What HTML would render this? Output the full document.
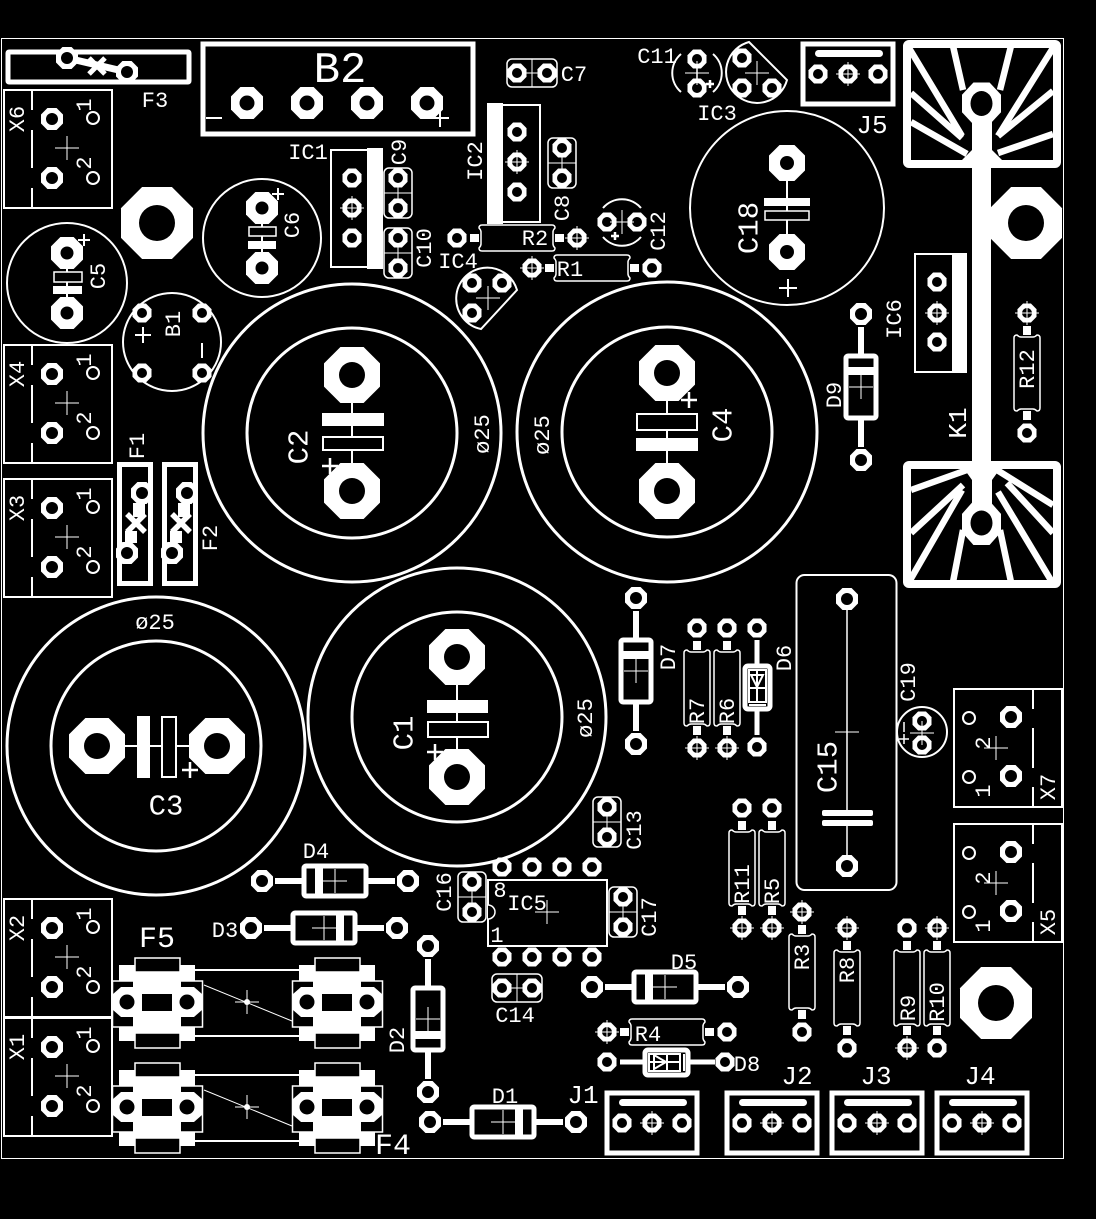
<!DOCTYPE html>
<html><head><meta charset="utf-8"><style>
html,body{margin:0;padding:0;background:#000}
svg{display:block}
text{font-family:"Liberation Mono",monospace;fill:#fff;stroke:none;text-anchor:middle;dominant-baseline:central;font-size:22px}
.l{fill:none;stroke:#fff;stroke-width:1.5}
.m{fill:none;stroke:#fff;stroke-width:2}
.h{fill:none;stroke:#fff;stroke-width:3}
.f{fill:none;stroke:#fff;stroke-width:5}
.w{stroke:#fff;stroke-width:6.5;fill:none}
.k{fill:#000}
.b{fill:#000;stroke:#fff;stroke-width:5}
</style></head><body>
<svg xmlns="http://www.w3.org/2000/svg" width="1096" height="1219" viewBox="0 0 1096 1219" fill="#fff">
<defs>
<path id="o" d="M-1,-.414 L-.414,-1 L.414,-1 L1,-.414 L1,.414 L.414,1 L-.414,1 L-1,.414Z"/>
<g id="a"><use href="#o" transform="scale(9.5)"/><circle r="5" fill="#000"/></g>
<g id="b"><use href="#o" transform="scale(11)"/><circle r="6" fill="#000"/></g>
<g id="p15"><use href="#o" transform="scale(16)"/><circle r="6.500" fill="#000"/></g>
<g id="p16"><use href="#o" transform="scale(16)"/><circle r="7.500" fill="#000"/></g>
<g id="p18"><use href="#o" transform="scale(18)"/><circle r="7" fill="#000"/></g>
<g id="p28"><use href="#o" transform="scale(28)"/><circle r="13" fill="#000"/></g>
<g id="p36"><use href="#o" transform="scale(36)"/><circle r="18" fill="#000"/></g>
<path id="c" d="M-12,0H12M0,-12V12" stroke="#fff" stroke-width="1" fill="none"/>
<g id="R">
<path class="l" d="M-35,-13H35Q38,-13 38,-10Q36,-8 36,-6V6Q36,8 38,10Q38,13 35,13H-35Q-38,13 -38,10Q-36,8 -36,6V-6Q-36,-8 -38,-10Q-38,-13 -35,-13Z"/>
<rect x="-47" y="-4" width="9" height="8"/><rect x="38" y="-4" width="9" height="8"/>
<use href="#a" x="-60"/><use href="#a" x="60"/><use href="#c" x="-60"/>
</g>
<g id="D">
<path d="M-60,0H-33M33,0H60" stroke="#fff" stroke-width="6"/>
<rect class="b" x="-31" y="-15" width="62" height="30" rx="2"/>
<rect x="-20" y="-15" width="8" height="30"/>
<use href="#c"/>
<use href="#b" x="-73"/><use href="#b" x="73"/>
</g>
<g id="Cv">
<rect class="l" x="-14" y="-25" width="28" height="50" rx="5"/>
<path d="M0,-15V15M-14,0H14" stroke="#fff" stroke-width="1" fill="none"/>
<use href="#a" y="-15"/><use href="#a" y="15"/>
</g>
<g id="TL">
<rect class="m" x="0" y="0" width="108" height="118"/>
<path class="m" d="M28,0V20M28,40V78M28,98V118"/>
<use href="#b" x="48" y="29"/><use href="#b" x="48" y="88"/>
<circle class="m" cx="89" cy="28" r="6"/><circle class="m" cx="89" cy="88" r="6"/>
<use href="#c" x="63" y="58"/>
<text dy=".07em" x="80" y="15" transform="rotate(-90 80 15)">1</text>
<text dy=".07em" x="80" y="73" transform="rotate(-90 80 73)">2</text>
</g>
<g id="TR">
<rect class="m" x="0" y="0" width="108" height="118"/>
<path class="m" d="M79,0V20M79,39V79M79,98V118"/>
<use href="#b" x="57" y="28"/><use href="#b" x="57" y="87"/>
<circle class="m" cx="15" cy="29" r="6"/><circle class="m" cx="15" cy="88" r="6"/>
<use href="#c" x="42" y="59"/>
<text dy=".07em" x="29" y="54" transform="rotate(-90 29 54)">2</text>
<text dy=".07em" x="29" y="102" transform="rotate(-90 29 102)">1</text>
</g>
<g id="J">
<rect class="f" x="0" y="0" width="90" height="60"/>
<rect x="12" y="6" width="68" height="7" rx="3.5"/>
<use href="#a" x="15" y="30"/><use href="#a" x="45" y="30"/><use href="#a" x="75" y="30"/>
<use href="#c" x="45" y="30"/>
</g>
<g id="H">
<rect x="-38" y="-37" width="76" height="76"/>
<rect x="-44.500" y="-21" width="20.500" height="46" class="k"/>
<rect x="24" y="-21" width="21.500" height="46" class="k"/>
<rect x="-44.500" y="-21" width="90" height="46" class="l"/>
<path d="M-44,-8L-36,-15H-16V15H-36L-44,8Z"/>
<path d="M45,-8L37,-15H16V15H37L45,8Z"/>
<circle cx="-30" r="7.500" class="k"/><circle cx="30" r="7.500" class="k"/>
<rect x="-15" y="-8" width="30" height="17" class="k"/>
<rect class="k" x="-22" y="-44" width="45" height="14"/><rect class="l" x="-22" y="-44" width="45" height="14"/>
<rect class="k" x="-22" y="31" width="45" height="15"/><rect class="l" x="-22" y="31" width="45" height="15"/>
</g>
</defs>
<rect width="1096" height="1219" fill="#000"/>
<rect x="1.500" y="38.500" width="1062" height="1120" fill="none" stroke="#fff" stroke-width="1"/>

<!-- F3 -->
<rect class="f" x="8" y="52" width="181" height="30" rx="1"/>
<path d="M67,58L127,72" stroke="#fff" stroke-width="7"/>
<path d="M89,58L105,74M105,58L89,74" stroke="#fff" stroke-width="5"/>
<use href="#b" x="67" y="58"/><use href="#b" x="127" y="72"/>
<text dy=".07em" x="155" y="100">F3</text>

<!-- B2 -->
<rect class="f" x="203" y="44" width="270" height="90"/>
<text dy=".07em" x="340" y="68" style="font-size:44px">B2</text>
<use href="#p16" x="247" y="103"/><use href="#p16" x="307" y="103"/><use href="#p16" x="367" y="103"/><use href="#p16" x="427" y="103"/>
<path d="M206,118H222M431,118H449M440,109V127" stroke="#fff" stroke-width="2" fill="none"/>

<!-- terminals -->
<use href="#TL" x="4" y="90"/><text dy=".07em" x="17" y="119" transform="rotate(-90 17 119)">X6</text>
<use href="#TL" x="4" y="345"/><text dy=".07em" x="17" y="374" transform="rotate(-90 17 374)">X4</text>
<use href="#TL" x="4" y="479"/><text dy=".07em" x="17" y="508" transform="rotate(-90 17 508)">X3</text>
<use href="#TL" x="4" y="899"/><text dy=".07em" x="17" y="928" transform="rotate(-90 17 928)">X2</text>
<use href="#TL" x="4" y="1018"/><text dy=".07em" x="17" y="1047" transform="rotate(-90 17 1047)">X1</text>
<use href="#TR" x="954" y="689"/><text dy=".07em" x="1048" y="787" transform="rotate(-90 1048 787)">X7</text>
<use href="#TR" x="954" y="824"/><text dy=".07em" x="1048" y="922" transform="rotate(-90 1048 922)">X5</text>

<!-- mounting holes -->
<use href="#p36" x="157" y="223"/><use href="#p36" x="996" y="1003"/>

<!-- C5 C6 -->
<circle class="m" cx="67" cy="283" r="60"/>
<path d="M67,253V313" stroke="#fff" stroke-width="2"/>
<rect class="k" x="54" y="272" width="28" height="10"/><rect class="l" x="54" y="272" width="28" height="10" stroke-width="2"/>
<rect x="53" y="286" width="29" height="8"/>
<use href="#p15" x="67" y="253"/><use href="#p15" x="67" y="313"/>
<text dy=".07em" x="98" y="276" transform="rotate(-90 98 276)">C5</text>
<path d="M78,240H90M84,234V246" stroke="#fff" stroke-width="2"/>
<circle class="m" cx="262" cy="238" r="59"/>
<path d="M262,208V268" stroke="#fff" stroke-width="2"/>
<rect class="k" x="249" y="227" width="27" height="9"/><rect class="l" x="249" y="227" width="27" height="9"/>
<rect x="248" y="241" width="28" height="8"/>
<use href="#p15" x="262" y="208"/><use href="#p15" x="262" y="268"/>
<text dy=".07em" x="292" y="225" transform="rotate(-90 292 225)">C6</text>
<path d="M272,194H284M278,188V200" stroke="#fff" stroke-width="2"/>

<!-- B1 -->
<circle class="m" cx="172" cy="342" r="49"/>
<use href="#a" x="142" y="313"/><use href="#a" x="202" y="313"/><use href="#a" x="142" y="373"/><use href="#a" x="202" y="373"/>
<text dy=".07em" x="173" y="324" transform="rotate(-90 173 324)">B1</text>
<path d="M143,327V343M135,335H151M202,343V358" stroke="#fff" stroke-width="2"/>

<!-- C2 -->
<circle class="h" cx="352" cy="433" r="149"/><circle class="h" cx="352" cy="433" r="105"/>
<path d="M352,375V491" stroke="#fff" stroke-width="2"/>
<rect x="322" y="413" width="62" height="13"/>
<rect class="k" x="323" y="437" width="60" height="13"/><rect class="m" x="323" y="437" width="60" height="13"/>
<use href="#p28" x="352" y="375"/><use href="#p28" x="352" y="491"/>
<path d="M322,466H338M330,458V474" stroke="#fff" stroke-width="2.500"/>
<text dy=".07em" x="298" y="447" transform="rotate(-90 298 447)" style="font-size:29px">C2</text>
<text dy=".07em" x="482" y="434" transform="rotate(-90 482 434)">ø25</text>

<!-- C4 -->
<circle class="h" cx="667" cy="432" r="150"/><circle class="h" cx="667" cy="432" r="105"/>
<path d="M667,373V491" stroke="#fff" stroke-width="2"/>
<rect class="k" x="637" y="414" width="60" height="16"/><rect class="m" x="637" y="414" width="60" height="16"/>
<rect x="636" y="438" width="62" height="13"/>
<use href="#p28" x="667" y="373"/><use href="#p28" x="667" y="491"/>
<path d="M681,400H697M689,392V408" stroke="#fff" stroke-width="2.500"/>
<text dy=".07em" x="722" y="425" transform="rotate(-90 722 425)" style="font-size:29px">C4</text>
<text dy=".07em" x="542" y="435" transform="rotate(-90 542 435)">ø25</text>

<!-- C3 -->
<circle class="h" cx="156" cy="746" r="149"/><circle class="h" cx="156" cy="746" r="105"/>
<path d="M97,746H217" stroke="#fff" stroke-width="2"/>
<rect x="137" y="716" width="13" height="62"/>
<rect class="k" x="162" y="717" width="14" height="60"/><rect class="m" x="162" y="717" width="14" height="60"/>
<use href="#p28" x="97" y="746"/><use href="#p28" x="217" y="746"/>
<path d="M182,770H198M190,762V778" stroke="#fff" stroke-width="2.500"/>
<text dy=".07em" x="166" y="805" style="font-size:29px">C3</text>
<text dy=".07em" x="155" y="622">ø25</text>

<!-- C1 -->
<circle class="h" cx="457" cy="717" r="149"/><circle class="h" cx="457" cy="717" r="105"/>
<path d="M457,657V777" stroke="#fff" stroke-width="2"/>
<rect x="427" y="700" width="61" height="13"/>
<rect class="k" x="428" y="722" width="60" height="15"/><rect class="m" x="428" y="722" width="60" height="15"/>
<use href="#p28" x="457" y="657"/><use href="#p28" x="457" y="777"/>
<path d="M427,752H443M435,744V760" stroke="#fff" stroke-width="2.500"/>
<text dy=".07em" x="403" y="733" transform="rotate(-90 403 733)" style="font-size:29px">C1</text>
<text dy=".07em" x="585" y="718" transform="rotate(-90 585 718)">ø25</text>

<!-- C18 -->
<circle class="m" cx="787" cy="208" r="97"/>
<path d="M787,163V252" stroke="#fff" stroke-width="2"/>
<rect x="764" y="198" width="46" height="8"/>
<rect class="k" x="765" y="211" width="44" height="9"/><rect class="l" x="765" y="211" width="44" height="9"/>
<use href="#p18" x="787" y="163"/><use href="#p18" x="787" y="252"/>
<text dy=".07em" x="748" y="228" transform="rotate(-90 748 228)" style="font-size:29px">C18</text>
<path d="M779,288H797M788,279V297" stroke="#fff" stroke-width="2"/>

<!-- IC1 -->
<rect class="m" x="331" y="150" width="38" height="117"/>
<rect x="367" y="148" width="16" height="121"/>
<use href="#a" x="352" y="178"/><use href="#a" x="352" y="208"/><use href="#a" x="352" y="238"/><use href="#c" x="352" y="208"/>
<text dy=".07em" x="308" y="152">IC1</text>
<!-- C9 C10 -->
<use href="#Cv" x="398" y="193"/><use href="#Cv" x="398" y="253"/>
<text dy=".07em" x="399" y="152" transform="rotate(-90 399 152)">C9</text>
<text dy=".07em" x="424" y="248" transform="rotate(-90 424 248)">C10</text>

<!-- IC2 -->
<rect class="m" x="502" y="105" width="38" height="117"/>
<rect x="487" y="103" width="16" height="121"/>
<use href="#a" x="517" y="132"/><use href="#a" x="517" y="162"/><use href="#a" x="517" y="192"/><use href="#c" x="517" y="162"/>
<text dy=".07em" x="475" y="161" transform="rotate(-90 475 161)">IC2</text>
<!-- C7 C8 -->
<use href="#Cv" transform="translate(532 73) rotate(90)"/>
<text dy=".07em" x="574" y="74">C7</text>
<use href="#Cv" x="562" y="163"/>
<text dy=".07em" x="562" y="208" transform="rotate(-90 562 208)">C8</text>

<!-- R2 R1 -->
<use href="#R" transform="translate(517 238) rotate(180)"/><text dy=".07em" x="535" y="238">R2</text>
<use href="#R" x="592" y="268"/><text dy=".07em" x="570" y="269">R1</text>
<text dy=".07em" x="458" y="261">IC4</text>
<!-- IC4 -->
<path class="m" d="M517,290L481,329A31,31 0 1 1 517,290Z"/>
<use href="#a" x="472" y="283"/><use href="#a" x="502" y="283"/><use href="#a" x="472" y="313"/><use href="#c" x="488" y="298"/>
<!-- IC3 -->
<path class="m" d="M749,42L787,80A31,31 0 1 1 749,42Z"/>
<use href="#a" x="742" y="58"/><use href="#a" x="742" y="88"/><use href="#a" x="772" y="88"/><use href="#c" x="757" y="73"/>
<text dy=".07em" x="717" y="113">IC3</text>
<!-- C11 -->
<path class="m" d="M681,54A25,25 0 0 0 681,92M713,54A25,25 0 0 1 713,92"/>
<path d="M697,59V88" stroke="#fff" stroke-width="1.500"/>
<use href="#a" x="697" y="59"/><use href="#a" x="697" y="88"/><use href="#c" x="697" y="73"/>
<path d="M706,84H714M710,80V88" stroke="#fff" stroke-width="2.500"/>
<text dy=".07em" x="657" y="56">C11</text>
<!-- C12 -->
<path class="m" d="M603,208A25,25 0 0 1 641,208M603,237A25,25 0 0 0 641,237"/>
<use href="#a" x="607" y="222"/><use href="#a" x="637" y="222"/><use href="#c" x="622" y="222"/>
<path d="M611,236H619M615,232V240" stroke="#fff" stroke-width="2.500"/>
<text dy=".07em" x="658" y="231" transform="rotate(-90 658 231)">C12</text>

<!-- J -->
<use href="#J" x="803" y="44"/><text dy=".07em" x="872" y="124" style="font-size:26px">J5</text>
<use href="#J" x="607" y="1093"/><text dy=".07em" x="583" y="1094" style="font-size:26px">J1</text>
<use href="#J" x="727" y="1093"/><text dy=".07em" x="797" y="1075" style="font-size:26px">J2</text>
<use href="#J" x="832" y="1093"/><text dy=".07em" x="876" y="1075" style="font-size:26px">J3</text>
<use href="#J" x="937" y="1093"/><text dy=".07em" x="980" y="1075" style="font-size:26px">J4</text>

<!-- K1 upper frame -->
<rect x="907" y="44" width="150" height="120" fill="none" stroke="#fff" stroke-width="8" rx="2"/>
<path class="w" d="M909,48L962,136M911,93L962,138M911,122L967,154M953,46L963,90M1011,46L1000,90M1053,48L998,136M1053,91L998,136M1053,134L998,153"/>
<path d="M972,116H992V150L1002,160H962L972,150Z"/>
<!-- K1 lower frame -->
<rect x="907" y="465" width="150" height="119" fill="none" stroke="#fff" stroke-width="8" rx="2"/>
<path class="w" d="M911,490L967,470M911,533L963,485M909,582L962,490M953,582L963,530M1011,582L1000,530M1052,582L998,492M1053,505L997,470M1053,533L1007,483"/>
<path d="M962,466H1002L992,480V515H972V480Z"/>
<use href="#o" transform="translate(981.5 103.500) scale(19.500 21)"/><ellipse cx="981.500" cy="103.500" rx="11" ry="12.500" fill="#000"/>
<use href="#o" transform="translate(981.5 523) scale(19.500 22)"/><ellipse cx="981.500" cy="523" rx="11" ry="12.500" fill="#000"/>
<use href="#p36" x="1026" y="223"/>
<rect x="972" y="160" width="19" height="310"/>
<text dy=".07em" x="957" y="423" transform="rotate(-90 957 423)" style="font-size:26px">K1</text>

<!-- IC6 -->
<rect class="m" x="915" y="254" width="38" height="118"/>
<rect x="952" y="253" width="15" height="120"/>
<use href="#a" x="937" y="282"/><use href="#a" x="937" y="313"/><use href="#a" x="937" y="342"/><use href="#c" x="937" y="313"/>
<text dy=".07em" x="894" y="319" transform="rotate(-90 894 319)">IC6</text>

<!-- R vertical -->
<use href="#R" transform="translate(1027 373) rotate(90)"/><text dy=".07em" x="1027" y="369" transform="rotate(-90 1027 369)">R12</text>
<use href="#R" transform="translate(697 688) rotate(-90)"/><text dy=".07em" x="697" y="711" transform="rotate(-90 697 711)">R7</text>
<use href="#R" transform="translate(727 688) rotate(-90)"/><text dy=".07em" x="727" y="711" transform="rotate(-90 727 711)">R6</text>
<use href="#R" transform="translate(742 868) rotate(-90)"/><text dy=".07em" x="742" y="884" transform="rotate(-90 742 884)">R11</text>
<use href="#R" transform="translate(772 868) rotate(-90)"/><text dy=".07em" x="772" y="891" transform="rotate(-90 772 891)">R5</text>
<use href="#R" transform="translate(802 972) rotate(90)"/><text dy=".07em" x="802" y="957" transform="rotate(-90 802 957)">R3</text>
<use href="#R" transform="translate(847 988) rotate(90)"/><text dy=".07em" x="847" y="970" transform="rotate(-90 847 970)">R8</text>
<use href="#R" transform="translate(907 988) rotate(-90)"/><text dy=".07em" x="908" y="1008" transform="rotate(-90 908 1008)">R9</text>
<use href="#R" transform="translate(937 988) rotate(90)"/><text dy=".07em" x="937" y="1002" transform="rotate(-90 937 1002)">R10</text>
<use href="#R" x="667" y="1032"/><text dy=".07em" x="648" y="1034">R4</text>

<!-- Diodes -->
<use href="#D" x="335" y="881"/><text dy=".07em" x="316" y="851">D4</text>
<use href="#D" transform="translate(324 928) rotate(180)"/><text dy=".07em" x="225" y="930">D3</text>
<use href="#D" x="665" y="987"/><text dy=".07em" x="684" y="962">D5</text>
<use href="#D" transform="translate(503 1122) rotate(180)"/><text dy=".07em" x="505" y="1096">D1</text>
<use href="#D" transform="translate(428 1019) rotate(-90)"/><text dy=".07em" x="397" y="1040" transform="rotate(-90 397 1040)">D2</text>
<use href="#D" transform="translate(636 671) rotate(90)"/><text dy=".07em" x="668" y="657" transform="rotate(-90 668 657)">D7</text>
<use href="#D" transform="translate(861 387) rotate(90)"/><text dy=".07em" x="834" y="395" transform="rotate(-90 834 395)">D9</text>

<!-- D6 -->
<path d="M757,640V735" stroke="#fff" stroke-width="5"/>
<rect class="b" x="745" y="666" width="25" height="43" rx="3" stroke-width="4"/>
<path d="M749,670H766V702H749ZM749,688H766M757,670V702M751,675H763L757,687Z" stroke="#fff" stroke-width="2" fill="none"/>
<rect x="749" y="704" width="17" height="2"/>
<use href="#a" x="757" y="628"/><use href="#a" x="757" y="747"/>
<text dy=".07em" x="784" y="658" transform="rotate(-90 784 658)">D6</text>
<!-- D8 -->
<path d="M620,1062H715" stroke="#fff" stroke-width="5"/>
<rect class="b" x="645" y="1050" width="43" height="25" rx="3" stroke-width="4"/>
<path d="M649,1054H680V1071H649ZM667,1054V1071M649,1062H680M654,1055V1069L666,1062Z" stroke="#fff" stroke-width="2" fill="none"/>
<rect x="683" y="1054" width="2" height="17"/>
<use href="#a" x="607" y="1062"/><use href="#a" x="725" y="1062"/>
<text dy=".07em" x="747" y="1064">D8</text>

<!-- C15 -->
<rect class="m" x="796.500" y="575" width="100" height="315" rx="8"/>
<path d="M847,599V811M847,826V866" stroke="#fff" stroke-width="1.500"/>
<rect x="822" y="810" width="51" height="6" rx="2"/><rect x="822" y="820" width="51" height="6" rx="2"/>
<use href="#b" x="847" y="599"/><use href="#b" x="847" y="866"/><use href="#c" x="847" y="732"/>
<text dy=".07em" x="827" y="767" transform="rotate(-90 827 767)" style="font-size:29px">C15</text>
<!-- C19 -->
<circle class="m" cx="922" cy="732" r="25"/>
<use href="#a" x="922" y="721"/><use href="#a" x="922" y="745"/><use href="#c" x="922" y="733"/>
<text dy=".07em" x="908" y="682" transform="rotate(-90 908 682)">C19</text>
<path d="M899,739H909M904,734V744M904,722V732" stroke="#fff" stroke-width="1.500"/>

<!-- C13 C16 C17 C14 -->
<use href="#Cv" x="607" y="822"/><text dy=".07em" x="634" y="830" transform="rotate(-90 634 830)">C13</text>
<use href="#Cv" x="472" y="897"/><text dy=".07em" x="444" y="892" transform="rotate(-90 444 892)">C16</text>
<use href="#Cv" x="623" y="912"/><text dy=".07em" x="649" y="917" transform="rotate(-90 649 917)">C17</text>
<use href="#Cv" transform="translate(517 988) rotate(90)"/><text dy=".07em" x="515" y="1015">C14</text>

<!-- IC5 -->
<rect class="m" x="488" y="880" width="119" height="66"/>
<path d="M488,905A7,7 0 0 1 488,919" fill="#000" stroke="#fff" stroke-width="1.500"/>
<use href="#a" x="502" y="867"/><use href="#a" x="532" y="867"/><use href="#a" x="562" y="867"/><use href="#a" x="592" y="867"/>
<use href="#a" x="502" y="957"/><use href="#a" x="532" y="957"/><use href="#a" x="562" y="957"/><use href="#a" x="592" y="957"/>
<use href="#c" x="547" y="912"/>
<text dy=".07em" x="527" y="903">IC5</text><text dy=".07em" x="500" y="890">8</text><text dy=".07em" x="497" y="935">1</text>

<!-- F1 F2 -->
<rect x="119.500" y="464.500" width="31" height="119" class="f"/>
<rect x="164.500" y="464.500" width="31" height="119" class="f"/>
<rect x="133" y="503" width="12" height="14"/><rect x="125" y="531" width="12" height="12"/>
<rect x="178" y="503" width="12" height="14"/><rect x="170" y="531" width="12" height="12"/>
<path d="M127,514L145,532M145,514L127,532M172,514L190,532M190,514L172,532" stroke="#fff" stroke-width="5.500"/>
<use href="#b" x="142" y="493"/><use href="#b" x="127" y="553"/>
<use href="#b" x="187" y="493"/><use href="#b" x="172" y="553"/>
<text dy=".07em" x="137" y="446" transform="rotate(-90 137 446)">F1</text>
<text dy=".07em" x="210" y="538" transform="rotate(-90 210 538)">F2</text>

<!-- F5 F4 -->
<path d="M195,970H299M195,1036H299M195,1075H299M195,1141H299" stroke="#fff" stroke-width="2"/>
<path d="M204,985L292,1021M204,1090L292,1126" stroke="#fff" stroke-width="1"/>
<circle cx="247" cy="1002" r="3"/><circle cx="247" cy="1107" r="3"/>
<use href="#c" x="247" y="1002"/><use href="#c" x="247" y="1107"/>
<use href="#H" x="157" y="1002"/><use href="#H" x="337" y="1002"/>
<use href="#H" x="157" y="1107"/><use href="#H" x="337" y="1107"/>
<text dy=".07em" x="157" y="938" style="font-size:30px">F5</text>
<text dy=".07em" x="393" y="1145" style="font-size:30px">F4</text>
</svg>
</body></html>
